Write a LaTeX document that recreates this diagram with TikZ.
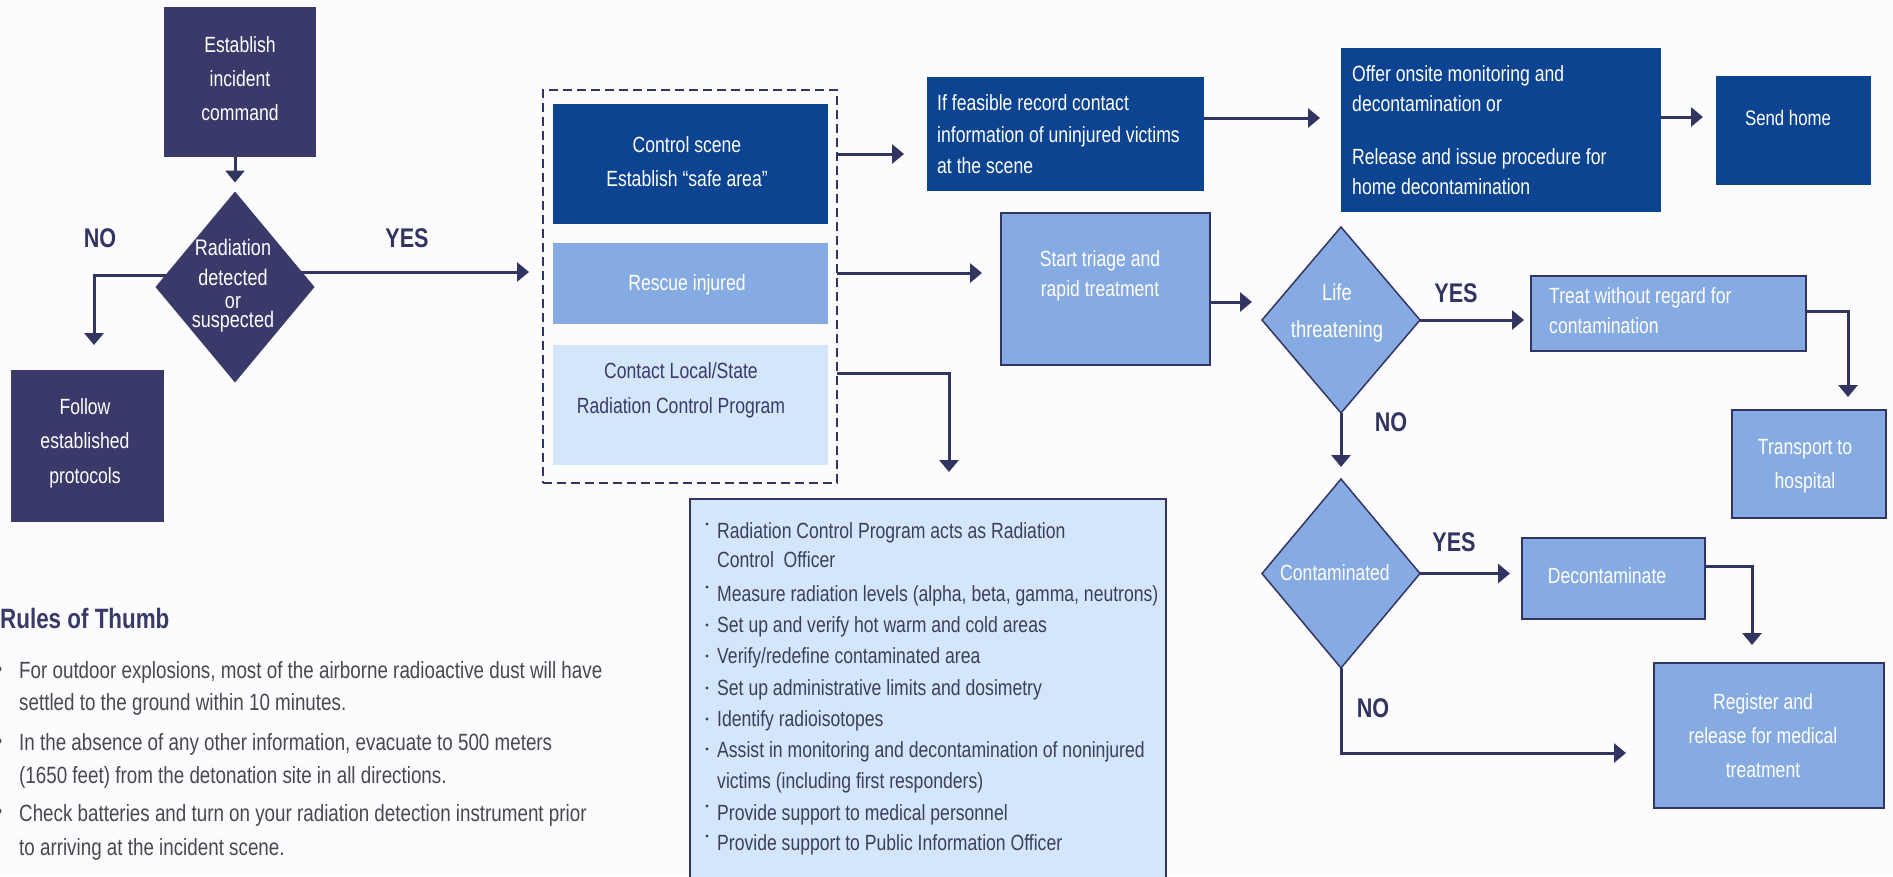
\documentclass[tikz,border=0pt]{standalone}
\usepackage{fontspec}
\setmainfont[FakeStretch=0.8]{Liberation Sans}
\usetikzlibrary{arrows.meta,shapes.geometric}
\pgfdeclarelayer{back}
\pgfsetlayers{back,main}
\definecolor{navy}{RGB}{58,58,106}
\definecolor{dblue}{RGB}{12,68,146}
\definecolor{mblue}{RGB}{134,170,226}
\definecolor{lblue}{RGB}{212,230,250}
\definecolor{lc}{RGB}{50,52,98}
\definecolor{bgc}{RGB}{252,252,254}
\definecolor{graytxt}{RGB}{72,72,80}
\definecolor{bultxt}{RGB}{60,62,94}
\newcommand\myfs[2][22]{\fontsize{#1}{#2}\selectfont}
\tikzset{
  box/.style={rectangle, inner sep=0pt, outer sep=0pt},
  bord/.style={draw=lc, line width=2pt},
  tx/.style={inner sep=0pt, align=center, text=white},
  lab/.style={inner sep=0pt, text=lc, font={\bfseries\myfs[27]{30}}},
  arr/.style={draw=lc, line width=3pt, -{Triangle[length=12pt,width=19pt]}},
  dia/.style={diamond, inner sep=0pt, outer sep=0pt},
  rl/.style={anchor=base west, inner sep=0pt, text=graytxt, font={\myfs[23.5]{30}}},
  bl/.style={anchor=base west, inner sep=0pt, text=bultxt, font={\myfs{30}}},
}
\begin{document}
\begin{tikzpicture}[x=1pt,y=-1pt]
\useasboundingbox (0,0) rectangle (1893,876);

% left part
\node[box, fill=navy, minimum width=152pt, minimum height=150pt] (est) at (240,82) {};
\node[tx, font={\myfs{34}}] (t-est) at (240,79) {Establish\\incident\\command};
\node[dia, fill=navy, minimum width=159pt, minimum height=191pt] (rad) at (235,287) {};
\node[tx, font={\myfs[22.5]{27}}] (t-rad) at (233,286) {Radiation\\[3pt]detected\\[-4.5pt]or\\[-7.5pt]suspected};
\node[box, fill=navy, minimum width=153pt, minimum height=152pt] (follow) at (87.5,446) {};
\node[tx, font={\myfs{34.5}}] (t-follow) at (85,443) {Follow\\established\\protocols};
\node[lab] (no1) at (100,238) {NO};
\node[lab] (yes1) at (407,238) {YES};

% dashed group
\node[box, draw=lc, dash pattern=on 9pt off 5pt, line width=2.5pt, minimum width=294pt, minimum height=393pt] (dash) at (690,286.5) {};
\node[box, fill=dblue, minimum width=275pt, minimum height=120pt] (ctrl) at (690.5,164) {};
\node[tx, font={\myfs{34}}] (t-ctrl) at (687,162) {Control scene\\Establish “safe area”};
\node[box, fill=mblue, minimum width=275pt, minimum height=81pt] (rescue) at (690.5,283.5) {};
\node[tx, font={\myfs{30}}] (t-rescue) at (687,285) {Rescue injured};
\node[box, fill=lblue, minimum width=275pt, minimum height=120pt] (contact) at (690.5,405) {};
\node[tx, text=navy, font={\myfs{35}}] (t-contact) at (681,390) {Contact Local/State\\Radiation Control Program};

% top row
\node[box, fill=dblue, minimum width=277pt, minimum height=114pt] (feas) at (1065.5,134) {};
\node[tx, align=left, anchor=west, font={\myfs{31.5}}] (t-feas) at (937,134.5) {If feasible record contact\\information of uninjured victims\\at the scene};
\node[box, fill=dblue, minimum width=320pt, minimum height=164pt] (offer) at (1501,130) {};
\node[tx, align=left, anchor=west, font={\myfs{30}}] (t-offer) at (1352,130) {Offer onsite monitoring and\\decontamination or\\[23pt]Release and issue procedure for\\home decontamination};
\node[box, fill=dblue, minimum width=155pt, minimum height=109pt] (home) at (1793.5,130.5) {};
\node[tx, font={\myfs[21]{30}}] (t-home) at (1788,118) {Send home};

% triage branch
\node[box, fill=mblue, bord, minimum width=209pt, minimum height=152pt] (triage) at (1105.5,289) {};
\node[tx, font={\myfs{30}}] (t-triage) at (1100,276) {Start triage and\\rapid treatment};
\node[dia, fill=mblue, draw=lc, line width=1.5pt, minimum width=158pt, minimum height=186pt] (life) at (1341,320) {};
\node[tx, font={\myfs[23]{37}}] (t-life) at (1337,313) {Life\\threatening};
\node[lab] (yes2) at (1456,293) {YES};
\node[box, fill=mblue, bord, minimum width=275pt, minimum height=75pt] (treat) at (1668.5,313.5) {};
\node[tx, align=left, anchor=west, font={\myfs{30}}] (t-treat) at (1549,311) {Treat without regard for\\contamination};
\node[box, fill=mblue, bord, minimum width=154pt, minimum height=108pt] (transport) at (1809,464) {};
\node[tx, font={\myfs{34}}] (t-transport) at (1805,466) {Transport to\\hospital};
\node[lab] (no2) at (1391,422) {NO};
\node[dia, fill=mblue, draw=lc, line width=1.5pt, minimum width=158pt, minimum height=189pt] (contam) at (1341,573.5) {};
\node[tx, font={\myfs{30}}] (t-contam) at (1335,573) {Contaminated};
\node[lab] (yes3) at (1454,542) {YES};
\node[box, fill=mblue, bord, minimum width=183pt, minimum height=81pt] (decon) at (1613.5,578.5) {};
\node[tx, font={\myfs{30}}] (t-decon) at (1607,576) {Decontaminate};
\node[box, fill=mblue, bord, minimum width=230pt, minimum height=145pt] (register) at (1769,735.5) {};
\node[tx, font={\myfs{34}}] (t-register) at (1763,736) {Register and\\release for medical\\treatment};
\node[lab] (no3) at (1373,708) {NO};

% bullet box
\node[box, fill=lblue, bord, minimum width=476pt, minimum height=390pt, anchor=north] (bulbox) at (928,499) {};
\node[bl] (bl1) at (717,538) {Radiation Control Program acts as Radiation};
\node[bl] (bl2) at (717,567) {Control~ Officer};
\node[bl] (bl3) at (717,601) {Measure radiation levels (alpha, beta, gamma, neutrons)};
\node[bl] (bl4) at (717,632) {Set up and verify hot warm and cold areas};
\node[bl] (bl5) at (717,663) {Verify/redefine contaminated area};
\node[bl] (bl6) at (717,695) {Set up administrative limits and dosimetry};
\node[bl] (bl7) at (717,726) {Identify radioisotopes};
\node[bl] (bl8) at (717,757) {Assist in monitoring and decontamination of noninjured};
\node[bl] (bl9) at (717,788) {victims (including first responders)};
\node[bl] (bl10) at (717,820) {Provide support to medical personnel};
\node[bl] (bl11) at (717,850) {Provide support to Public Information Officer};
\foreach \yy in {524,587,749,806,836} \fill[bultxt] (707,\yy) circle (1.6pt);
\foreach \yy in {625,656,688,719} \fill[bultxt] (707,\yy) circle (1.6pt);

% rules of thumb
\node[anchor=west, inner sep=0pt, text=navy, font={\bfseries\myfs[28]{30}}] (rules) at (0,618) {Rules of Thumb};
\node[rl] (rl1) at (19,678.5) {For outdoor explosions, most of the airborne radioactive dust will have};
\node[rl] (rl2) at (19,710.5) {settled to the ground within 10 minutes.};
\node[rl] (rl3) at (19,750.5) {In the absence of any other information, evacuate to 500 meters};
\node[rl] (rl4) at (19,783.5) {(1650 feet) from the detonation site in all directions.};
\node[rl] (rl5) at (19,821.5) {Check batteries and turn on your radiation detection instrument prior};
\node[rl] (rl6) at (19,855.5) {to arriving at the incident scene.};
\foreach \yy in {669,741,811} \fill[graytxt] (-1,\yy) circle (2.5pt);

% connectors
\begin{pgfonlayer}{back}
\fill[bgc] (0,0) rectangle (1893,876);
\draw[arr] (rad.north |- est.south) -- ([yshift=9pt]rad.north);
\draw[arr] (rad.center |- 0,275) -| ([xshift=6.5pt,yshift=25pt]follow.north);
\draw[arr] (rad.center |- 0,272) -- ([xshift=-14pt]dash.west |- 0,272);
\draw[arr] (dash.east |- 0,154) -- ([xshift=-23pt]feas.west |- 0,154);
\draw[arr] (dash.east |- 0,273) -- ([xshift=-19pt]triage.west |- 0,273);
\draw[arr] (dash.east |- 0,373) -| ([xshift=21pt,yshift=27pt]bulbox.north);
\draw[arr] (triage.east |- 0,302) -- ([xshift=-10pt]life.west |- 0,302);
\draw[arr] (feas.east |- 0,118) -- ([xshift=-21pt]offer.west |- 0,118);
\draw[arr] (offer.east |- 0,117) -- ([xshift=-13pt]home.west |- 0,117);
\draw[arr] (life.east) -- ([xshift=-7pt]treat.west |- life.east);
\draw[arr] (treat.east |- 0,311) -| ([xshift=39pt,yshift=13pt]transport.north);
\draw[arr] (life.south) -- ([yshift=12pt]contam.north);
\draw[arr] (contam.east) -- ([xshift=-12pt]decon.west |- contam.east);
\draw[arr] (decon.east |- 0,566) -| ([xshift=-17pt,yshift=18pt]register.north);
\draw[arr] (contam.south) |- ([xshift=-28pt]register.west |- 0,753);
\end{pgfonlayer}
\end{tikzpicture}
\end{document}
